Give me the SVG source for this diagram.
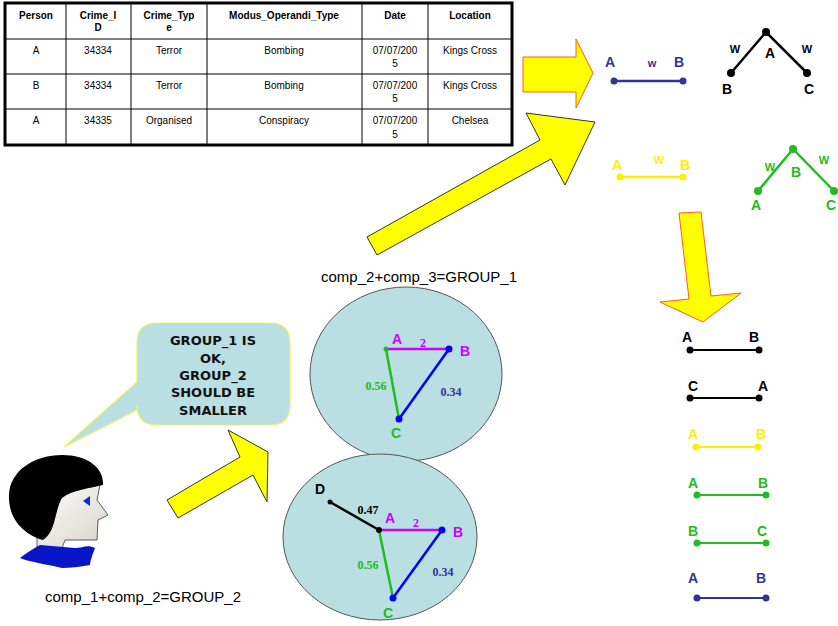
<svg xmlns="http://www.w3.org/2000/svg" width="838" height="626" viewBox="0 0 838 626">
  <style>
    .th { font-family: "Liberation Sans", Arial, sans-serif; font-size: 10px; font-weight: bold; text-anchor: middle; fill: #000; }
    .td { font-family: "Liberation Sans", Arial, sans-serif; font-size: 10px; text-anchor: middle; fill: #000; }
    .lbl { font-family: "Liberation Sans", Arial, sans-serif; font-size: 14px; font-weight: bold; text-anchor: middle; }
    .w { font-family: "Liberation Sans", Arial, sans-serif; font-size: 11px; font-weight: bold; text-anchor: middle; }
    .num { font-family: "Liberation Serif", "Times New Roman", serif; font-size: 12px; font-weight: bold; text-anchor: middle; }
    .cap { font-family: "Liberation Sans", Arial, sans-serif; font-size: 15px; text-anchor: middle; fill: #000; }
    .say { font-family: "DejaVu Sans", sans-serif; font-size: 13px; font-weight: bold; text-anchor: middle; fill: #111; }
    .arrowR { fill: #ffff00; stroke: #ff5a2a; stroke-width: 1; }
    .arrowG { fill: #ffff00; stroke: #333; stroke-width: 1; }
    .grp { fill: #b9dfe2; stroke: #555; stroke-width: 1; }
  </style>

  <!-- crime record table -->
  <g id="table">
    <rect x="5" y="3" width="507" height="142" fill="#fff" stroke="#000" stroke-width="3"/>
    <g stroke="#000" stroke-width="1">
      <line x1="66" y1="3" x2="66" y2="145"/>
      <line x1="131" y1="3" x2="131" y2="145"/>
      <line x1="207" y1="3" x2="207" y2="145"/>
      <line x1="362" y1="3" x2="362" y2="145"/>
      <line x1="428" y1="3" x2="428" y2="145"/>
      <line x1="5" y1="39" x2="512" y2="39"/>
      <line x1="5" y1="74" x2="512" y2="74"/>
      <line x1="5" y1="109" x2="512" y2="109"/>
    </g>
    <text class="th" x="36" y="19">Person</text>
    <text class="th" x="98" y="19">Crime_I</text>
    <text class="th" x="98" y="31">D</text>
    <text class="th" x="169" y="19">Crime_Typ</text>
    <text class="th" x="169" y="31">e</text>
    <text class="th" x="284" y="19">Modus_Operandi_Type</text>
    <text class="th" x="395" y="19">Date</text>
    <text class="th" x="470" y="19">Location</text>

    <text class="td" x="36" y="54">A</text>
    <text class="td" x="98" y="54">34334</text>
    <text class="td" x="169" y="54">Terror</text>
    <text class="td" x="284" y="54">Bombing</text>
    <text class="td" x="395" y="54">07/07/200</text>
    <text class="td" x="395" y="67">5</text>
    <text class="td" x="470" y="54">Kings Cross</text>

    <text class="td" x="36" y="89">B</text>
    <text class="td" x="98" y="89">34334</text>
    <text class="td" x="169" y="89">Terror</text>
    <text class="td" x="284" y="89">Bombing</text>
    <text class="td" x="395" y="89">07/07/200</text>
    <text class="td" x="395" y="102">5</text>
    <text class="td" x="470" y="89">Kings Cross</text>

    <text class="td" x="36" y="124">A</text>
    <text class="td" x="98" y="124">34335</text>
    <text class="td" x="169" y="124">Organised</text>
    <text class="td" x="284" y="124">Conspiracy</text>
    <text class="td" x="395" y="124">07/07/200</text>
    <text class="td" x="395" y="138">5</text>
    <text class="td" x="470" y="124">Chelsea</text>
  </g>

  <!-- block arrows -->
  <g id="connectors">
    <polygon class="arrowR" points="523,57 576,57 576,39 593,73 576,108 576,92 523,92"/>
    <polygon class="arrowG" points="367,237 540,140 526,113 595,122 565,185 551,159 377,255"/>
    <polygon class="arrowR" points="679,213 701,212 711,296 741,293 703,322 660,302 689,299"/>
    <polygon class="arrowG" points="167,500 240,457 228,430 268,452 267,502 253,475 178,518"/>
  </g>

  <!-- top-right weighted links -->
  <g id="link-ab-blue">
    <line x1="614" y1="81" x2="683" y2="81" stroke="#333399" stroke-width="2.5"/>
    <circle cx="614" cy="81" r="3.5" fill="#333399"/>
    <circle cx="683" cy="81" r="3.5" fill="#333399"/>
    <text class="lbl" x="610" y="67" fill="#333399">A</text>
    <text class="w" x="652" y="67" fill="#333399">w</text>
    <text class="lbl" x="679" y="67" fill="#333399">B</text>
  </g>

  <g id="tree-black">
    <polyline points="731,73 766,32 807,73" fill="none" stroke="#000" stroke-width="2.5"/>
    <circle cx="766" cy="32" r="4" fill="#000"/>
    <circle cx="731" cy="73" r="4" fill="#000"/>
    <circle cx="807" cy="73" r="4" fill="#000"/>
    <text class="w" x="735" y="53" fill="#000">W</text>
    <text class="w" x="807" y="53" fill="#000">W</text>
    <text class="lbl" x="770" y="58" fill="#000">A</text>
    <text class="lbl" x="727" y="94" fill="#000">B</text>
    <text class="lbl" x="809" y="94" fill="#000">C</text>
  </g>

  <g id="link-ab-yellow">
    <line x1="620" y1="177" x2="683" y2="177" stroke="#ffee00" stroke-width="2.5"/>
    <circle cx="620" cy="177" r="3.5" fill="#ffee00"/>
    <circle cx="683" cy="177" r="3.5" fill="#ffee00"/>
    <text class="lbl" x="617" y="170" fill="#ffee00">A</text>
    <text class="w" x="659" y="164" fill="#ffee00">W</text>
    <text class="lbl" x="685" y="170" fill="#ffee00">B</text>
  </g>

  <g id="tree-green">
    <polyline points="758,191 793,149 834,191" fill="none" stroke="#22bb22" stroke-width="2.5"/>
    <circle cx="793" cy="149" r="4" fill="#22bb22"/>
    <circle cx="758" cy="191" r="4" fill="#22bb22"/>
    <circle cx="834" cy="191" r="4" fill="#22bb22"/>
    <text class="w" x="770" y="171" fill="#22bb22">W</text>
    <text class="w" x="824" y="164" fill="#22bb22">W</text>
    <text class="lbl" x="796" y="177" fill="#22bb22">B</text>
    <text class="lbl" x="756" y="210" fill="#22bb22">A</text>
    <text class="lbl" x="831" y="210" fill="#22bb22">C</text>
  </g>

  <!-- GROUP_1 -->
  <g id="group-1">
    <text class="cap" x="419" y="282">comp_2+comp_3=GROUP_1</text>
    <ellipse class="grp" cx="406" cy="374" rx="96" ry="87"/>
    <line x1="386" y1="349" x2="449" y2="349" stroke="#cc00ff" stroke-width="2.5"/>
    <line x1="386" y1="349" x2="399" y2="419" stroke="#22bb22" stroke-width="2.5"/>
    <line x1="449" y1="349" x2="399" y2="419" stroke="#0000ff" stroke-width="2.5"/>
    <circle cx="386" cy="349" r="2.5" fill="#22bb22"/>
    <circle cx="449" cy="349" r="3.5" fill="#0000ff"/>
    <circle cx="399" cy="419" r="3.5" fill="#0000ff"/>
    <text class="lbl" x="397" y="344" fill="#cc00ff">A</text>
    <text class="num" x="423" y="347" fill="#cc00ff">2</text>
    <text class="lbl" x="465" y="356" fill="#cc00ff">B</text>
    <text class="num" x="376" y="390" fill="#22bb22">0.56</text>
    <text class="num" x="451" y="396" fill="#333399">0.34</text>
    <text class="lbl" x="396" y="438" fill="#22bb22">C</text>
  </g>

  <!-- GROUP_2 -->
  <g id="group-2">
    <ellipse class="grp" cx="380" cy="537" rx="97" ry="83"/>
    <line x1="379" y1="530" x2="330" y2="502" stroke="#000" stroke-width="2.5"/>
    <line x1="379" y1="530" x2="442" y2="530" stroke="#cc00ff" stroke-width="2.5"/>
    <line x1="379" y1="530" x2="393" y2="598" stroke="#22bb22" stroke-width="2.5"/>
    <line x1="442" y1="530" x2="393" y2="598" stroke="#0000ff" stroke-width="2.5"/>
    <circle cx="330" cy="502" r="2.5" fill="#000"/>
    <circle cx="379" cy="530" r="3" fill="#000"/>
    <circle cx="442" cy="530" r="3.5" fill="#0000ff"/>
    <circle cx="393" cy="598" r="3.5" fill="#0000ff"/>
    <text class="lbl" x="320" y="494" fill="#000">D</text>
    <text class="num" x="368" y="514" fill="#000">0.47</text>
    <text class="lbl" x="390" y="523" fill="#cc00ff">A</text>
    <text class="num" x="416" y="527" fill="#cc00ff">2</text>
    <text class="lbl" x="458" y="537" fill="#cc00ff">B</text>
    <text class="num" x="368" y="569" fill="#22bb22">0.56</text>
    <text class="num" x="443" y="576" fill="#333399">0.34</text>
    <text class="lbl" x="388" y="618" fill="#22bb22">C</text>
  </g>

  <!-- analyst with speech bubble -->
  <g id="analyst">
    <defs>
      <linearGradient id="skin" x1="0" y1="0" x2="1" y2="1">
        <stop offset="0" stop-color="#ffffff"/>
        <stop offset="1" stop-color="#d8d2c8"/>
      </linearGradient>
    </defs>
    <path d="M33,500 L100,485 L97,500 L108,515 L98,520 L97,540 L65,540 L62,548 L37,550 L37,535 Z" fill="url(#skin)" stroke="#333" stroke-width="0.8"/>
    <path d="M43,540 C25,535 8,520 9,495 C10,470 35,455 62,455 C88,455 104,468 103,485 C90,488 72,490 62,498 C54,512 56,532 43,540 Z" fill="#000"/>
    <path d="M20,558 C28,552 34,548 40,545 L75,548 C82,548 88,544 95,548 C92,556 90,562 90,565 C80,567 70,568 62,568 C45,564 30,562 20,558 Z" fill="#0a14c8"/>
    <polygon points="83,501 90,496 90,506" fill="#0a2ad8"/>
    <text class="cap" x="143" y="602">comp_1+comp_2=GROUP_2</text>
  </g>

  <g id="speech">
    <path d="M157,323 H270 Q290,323 290,343 V405 Q290,425 270,425 H157 Q137,425 137,405 V410 L64,447 L137,382 V343 Q137,323 157,323 Z" fill="#b9dfe2" stroke="#f0f060" stroke-width="1.2"/>
    <text class="say" x="213" y="345">GROUP_1 IS</text>
    <text class="say" x="213" y="363">OK,</text>
    <text class="say" x="213" y="380">GROUP_2</text>
    <text class="say" x="213" y="397">SHOULD BE</text>
    <text class="say" x="213" y="415">SMALLER</text>
  </g>

  <!-- resulting single links -->
  <g id="pair-ab-black">
    <line x1="690" y1="350" x2="759" y2="350" stroke="#000" stroke-width="2"/>
    <circle cx="690" cy="350" r="3.5" fill="#000"/>
    <circle cx="759" cy="350" r="3.5" fill="#000"/>
    <text class="lbl" x="687" y="342" fill="#000">A</text>
    <text class="lbl" x="754" y="342" fill="#000">B</text>
  </g>
  <g id="pair-ca-black">
    <line x1="690" y1="398" x2="759" y2="398" stroke="#000" stroke-width="2"/>
    <circle cx="690" cy="398" r="3.5" fill="#000"/>
    <circle cx="759" cy="398" r="3.5" fill="#000"/>
    <text class="lbl" x="693" y="391" fill="#000">C</text>
    <text class="lbl" x="763" y="391" fill="#000">A</text>
  </g>
  <g id="pair-ab-yellow">
    <line x1="696" y1="447" x2="758" y2="447" stroke="#ffee00" stroke-width="2"/>
    <circle cx="696" cy="447" r="3.5" fill="#ffee00"/>
    <circle cx="758" cy="447" r="3.5" fill="#ffee00"/>
    <text class="lbl" x="693" y="439" fill="#ffee00">A</text>
    <text class="lbl" x="761" y="439" fill="#ffee00">B</text>
  </g>
  <g id="pair-ab-green">
    <line x1="697" y1="495" x2="766" y2="495" stroke="#22bb22" stroke-width="2"/>
    <circle cx="697" cy="495" r="3.5" fill="#22bb22"/>
    <circle cx="766" cy="495" r="3.5" fill="#22bb22"/>
    <text class="lbl" x="693" y="488" fill="#22bb22">A</text>
    <text class="lbl" x="763" y="488" fill="#22bb22">B</text>
  </g>
  <g id="pair-bc-green">
    <line x1="697" y1="543" x2="766" y2="543" stroke="#22bb22" stroke-width="2"/>
    <circle cx="697" cy="543" r="3.5" fill="#22bb22"/>
    <circle cx="766" cy="543" r="3.5" fill="#22bb22"/>
    <text class="lbl" x="693" y="536" fill="#22bb22">B</text>
    <text class="lbl" x="762" y="536" fill="#22bb22">C</text>
  </g>
  <g id="pair-ab-blue">
    <line x1="697" y1="598" x2="766" y2="598" stroke="#333399" stroke-width="2"/>
    <circle cx="697" cy="598" r="3.5" fill="#333399"/>
    <circle cx="766" cy="598" r="3.5" fill="#333399"/>
    <text class="lbl" x="693" y="583" fill="#333399">A</text>
    <text class="lbl" x="761" y="583" fill="#333399">B</text>
  </g>
</svg>
